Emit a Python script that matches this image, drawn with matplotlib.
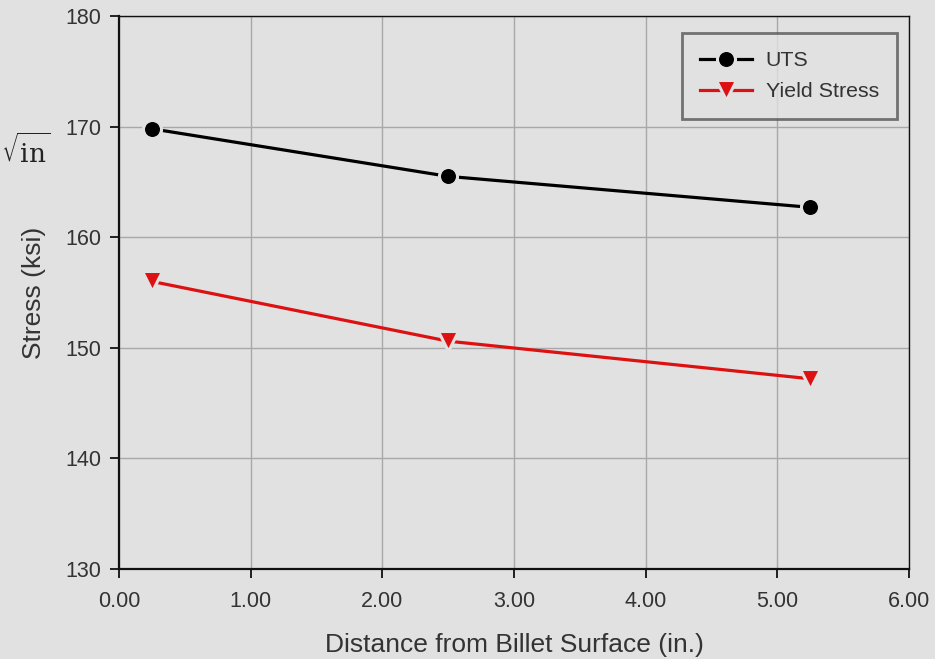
import matplotlib
matplotlib.use("Agg")
import matplotlib.pyplot as plt

x_uts = [0.25, 2.50, 5.25]
uts = [169.8, 165.5, 162.7]
x_ys = [0.25, 2.50, 5.25]
ys = [156.0, 150.6, 147.2]
xticks = [0.0, 1.0, 2.0, 3.0, 4.0, 5.0, 6.0]
yticks = [130, 140, 150, 160, 170, 180]

bg = "#e1e1e1"
plt.rcParams['font.family'] = ['Liberation Sans', 'DejaVu Sans']

fig = plt.figure(figsize=(9.35, 6.59), dpi=100, facecolor=bg)
ax = fig.add_axes([119/935, 1-569/659, (909-119)/935, (569-16)/659])
ax.set_facecolor(bg)

ax.plot(x_uts, uts, color="black", lw=2.3, marker="o", ms=13,
        markerfacecolor="black", markeredgecolor=bg, markeredgewidth=2.2, label="UTS", zorder=3)
ax.plot(x_ys, ys, color="#dd1111", lw=2.3, marker="v", ms=15,
        markerfacecolor="#dd1111", markeredgecolor=bg, markeredgewidth=2.2, label="Yield Stress", zorder=3)

ax.set_xlim(0, 6)
ax.set_ylim(130, 180)
ax.set_xticks(xticks)
ax.set_xticklabels([f"{v:.2f}" for v in xticks])
ax.set_yticks(yticks)
ax.grid(True, color="#a8a8a8", lw=1)
ax.set_axisbelow(True)
for s in ["left", "bottom"]:
    ax.spines[s].set_linewidth(1.6)
    ax.spines[s].set_color("#111111")
for s in ["top", "right"]:
    ax.spines[s].set_linewidth(1.0)
    ax.spines[s].set_color("#111111")
ax.tick_params(direction="out", length=6.5, width=1.3, color="#111111",
               labelsize=15.5, labelcolor="#333333", pad=6)
ax.tick_params(axis="x", pad=9.5)

ax.set_xlabel("Distance from Billet Surface (in.)", fontsize=19, color="#333333", labelpad=15)
ax.set_ylabel("Stress (ksi)", fontsize=19, color="#333333", labelpad=14)

leg = ax.legend(loc="upper right", bbox_to_anchor=(0.985, 0.969), fontsize=15.4,
                frameon=True, fancybox=False, facecolor=bg, edgecolor="#555555",
                borderpad=0.85, borderaxespad=0, handlelength=2.4, handletextpad=0.65,
                labelspacing=0.55, markerscale=1.0)
leg.get_frame().set_linewidth(2)
for t in leg.get_texts():
    t.set_color("#333333")

fig.text(0.001, 0.772, r"$\sqrt{\mathrm{in}}$", fontsize=19, math_fontfamily="dejavuserif",
         color="#222222", ha="left", va="center")

fig.savefig("out.png", dpi=100, facecolor=bg)
